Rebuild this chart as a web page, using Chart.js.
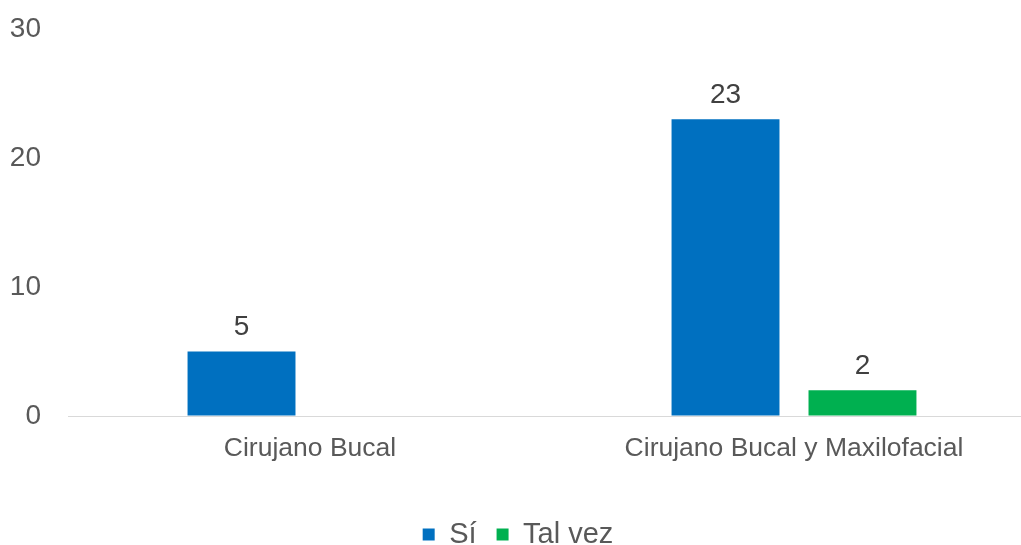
<!DOCTYPE html>
<html>
<head>
<meta charset="utf-8">
<script src="https://cdn.jsdelivr.net/npm/chart.js@4/dist/chart.umd.min.js"></script>
<style>
html, body { margin: 0; padding: 0; background: #fff; overflow: hidden; }
#wrap { width: 1036px; height: 574px; margin-top: -15px; }
</style>
</head>
<body>
<div id="wrap"><canvas id="chart"></canvas></div>
<script>
// datos del gráfico
const categorias = ['Cirujano Bucal', 'Cirujano Bucal y Maxilofacial'];
const valoresSi = [5, 23];
const valoresTalVez = [null, 2];
const yTicks = [0, 10, 20, 30];

const colors = {
  si: '#0070C0',
  talVez: '#00B050',
  text: '#595959',
  label: '#404040',
  axis: '#D9D9D9'
};
const fontFamily = "'Liberation Sans', Arial, sans-serif";

// etiquetas de valor encima de cada barra
const valueLabels = {
  id: 'valueLabels',
  afterDatasetsDraw(chart) {
    const ctx = chart.ctx;
    ctx.save();
    ctx.font = '28px ' + fontFamily;
    ctx.fillStyle = colors.label;
    ctx.textAlign = 'center';
    ctx.textBaseline = 'middle';
    chart.data.datasets.forEach((ds, i) => {
      const meta = chart.getDatasetMeta(i);
      meta.data.forEach((bar, j) => {
        const v = ds.data[j];
        if (v === null || v === undefined) return;
        ctx.fillText(String(v), bar.x, bar.y - 24);
      });
    });
    ctx.restore();
  }
};

new Chart(document.getElementById('chart'), {
  type: 'bar',
  data: {
    labels: categorias,
    datasets: [
      { label: 'Sí', data: valoresSi, backgroundColor: colors.si,
        categoryPercentage: 0.566, barPercentage: 0.788 },
      { label: 'Tal vez', data: valoresTalVez, backgroundColor: colors.talVez,
        categoryPercentage: 0.566, barPercentage: 0.788 }
    ]
  },
  options: {
    responsive: true,
    maintainAspectRatio: false,
    animation: false,
    layout: { padding: { top: 15, right: 0, bottom: 0, left: 0 } },
    plugins: {
      tooltip: { enabled: false },
      legend: {
        position: 'bottom',
        labels: {
          color: colors.text,
          font: { family: fontFamily, size: 29 },
          boxWidth: 12,
          boxHeight: 12,
          padding: 20
        }
      }
    },
    scales: {
      x: {
        afterFit: (scale) => { scale.height = 84; },
        grid: { display: false },
        border: { display: false },
        ticks: { color: colors.text, font: { family: fontFamily, size: 26.5 }, padding: 9 }
      },
      y: {
        min: 0,
        max: 30,
        afterBuildTicks: (scale) => { scale.ticks = yTicks.map(v => ({ value: v })); },
        afterFit: (scale) => { scale.width = 68; },
        border: { display: false },
        grid: {
          drawTicks: false,
          color: (c) => c.tick && c.tick.value === 0 ? colors.axis : 'rgba(0,0,0,0)'
        },
        ticks: { color: colors.text, font: { family: fontFamily, size: 28 }, padding: 27 }
      }
    }
  },
  plugins: [valueLabels]
});
</script>
</body>
</html>
